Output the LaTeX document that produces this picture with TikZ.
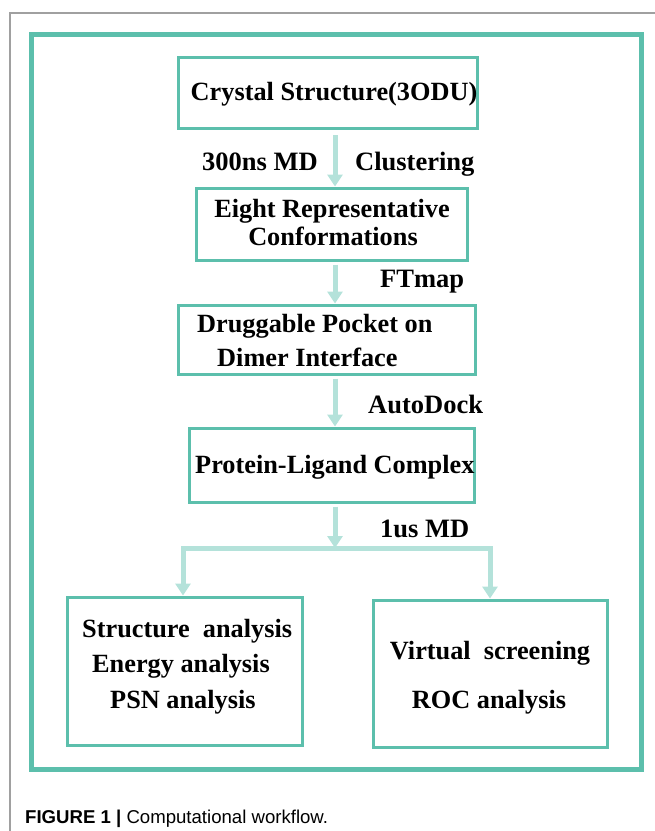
\documentclass[tikz,border=0pt]{standalone}
\usepackage{fontspec}
\setmainfont{Liberation Serif}
\newfontfamily\capfont{Liberation Sans}
\usetikzlibrary{arrows.meta}
\definecolor{teal1}{HTML}{5CBFAC}
\definecolor{teal2}{HTML}{B4E2DA}
\definecolor{frame}{HTML}{A0A0A0}
\tikzset{
  box/.style={draw=teal1, line width=3pt, inner sep=0pt},
  txt/.style={font=\fontsize{26.3}{28}\selectfont\bfseries, inner sep=0pt, anchor=base},
  txtl/.style={txt, anchor=base west},
  flow/.style={draw=teal2, line width=5pt, -{Triangle[width=15pt,length=12pt]}},
  lbl/.style={font=\fontsize{26.5}{28}\selectfont\bfseries, inner sep=0pt}
}
\begin{document}
\begin{tikzpicture}[x=1pt,y=-1pt]
\useasboundingbox (0,0) rectangle (655,831);
% outer gray frame lines
\coordinate (g0) at (10,831);
\coordinate (g1) at (10,13);
\coordinate (g2) at (655,13);
\draw[frame, line width=1.5pt] (g0) -- (g1) -- (g2);
% teal outer rectangle
\node[draw=teal1, line width=5pt, minimum width=610pt, minimum height=735pt, inner sep=0pt] (outer) at (336,401.5) {};
% boxes
\node[box, minimum width=299pt, minimum height=71pt] (b1) at (327.5,92.5) {};
\node[box, minimum width=271pt, minimum height=72pt] (b2) at (331.5,224) {};
\node[box, minimum width=297pt, minimum height=69pt] (b3) at (326.5,339.5) {};
\node[box, minimum width=285pt, minimum height=74pt] (b4) at (331.5,465) {};
\node[box, minimum width=235pt, minimum height=148pt] (b5) at (184.5,671) {};
\node[box, minimum width=234pt, minimum height=147pt] (b6) at (490,673.5) {};
% texts
\node[txt] (t1) at (334,100) {Crystal Structure(3ODU)};
\node[txt] (t2a) at (332,217) {Eight Representative};
\node[txt] (t2b) at (333,245) {Conformations};
\node[txtl] (t3a) at (197,332) {Druggable Pocket on};
\node[txtl] (t3b) at (217,366) {Dimer Interface};
\node[txtl] (t4) at (195,473) {Protein-Ligand Complex};
\node[txtl] (t5a) at (82,637) {Structure~ analysis};
\node[txtl] (t5b) at (92,672) {Energy analysis};
\node[txtl] (t5c) at (110,708) {PSN analysis};
\node[txt] (t6a) at (490,659) {Virtual~ screening};
\node[txt] (t6b) at (489,708) {ROC analysis};
% connector labels
\node[lbl, anchor=base east] (l1) at (318,170) {300ns MD};
\node[lbl, anchor=base west] (l2) at (355,170) {Clustering};
\node[lbl, anchor=base west] (l3) at (380,287) {FTmap};
\node[lbl, anchor=base west] (l4) at (368,413) {AutoDock};
\node[lbl, anchor=base west] (l5) at (380,537) {1us MD};
% connectors
\coordinate (sp) at (335,0);
\coordinate (a1) at (335,135);
\coordinate (bl) at (183,548);
\coordinate (br) at (490,548);
\coordinate (bm) at (335,548);
\draw[flow] (a1) -- (b2.north -| sp);
\draw[flow] ([yshift=-3pt]b2.south -| sp) -- (b3.north -| sp);
\draw[flow] ([yshift=-3pt]b3.south -| sp) -- (b4.north -| sp);
\draw[flow] ([yshift=-3pt]b4.south -| sp) -- (bm);
\draw[draw=teal2, line width=5pt] (bl) -- (br);
\draw[flow] ([yshift=2pt]bl) -- (b5.north -| bl);
\draw[flow] ([yshift=2pt]br) -- (b6.north -| br);
% caption
\node[anchor=base west, inner sep=0pt, font=\capfont\fontsize{18.6}{20}\selectfont] (cap) at (25,823) {\textbf{FIGURE 1 |} Computational workflow.};
\end{tikzpicture}
\end{document}
